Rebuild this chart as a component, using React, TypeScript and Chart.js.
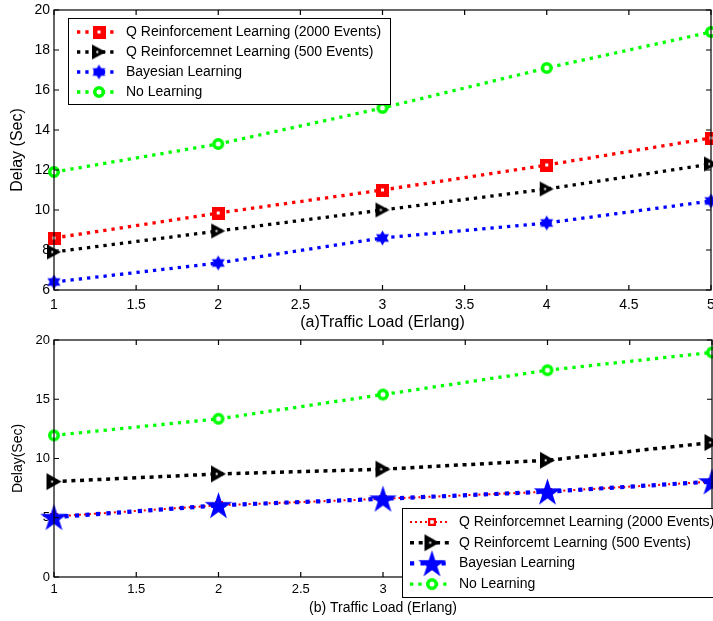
import React, { useEffect, useRef } from "react";
import { Chart, registerables } from "chart.js";
Chart.register(...registerables);

Chart.defaults.font.family = "'Liberation Sans', Arial, Helvetica, sans-serif";
Chart.defaults.color = "#000";

// ---------- data ----------
const loads = [1, 2, 3, 4, 5];

// (a) panel
const qrl2000A = [8.6, 9.85, 11.0, 12.25, 13.6];
const qrl500A = [7.9, 8.95, 10.0, 11.05, 12.3];
const bayesA = [6.4, 7.35, 8.6, 9.35, 10.45];
const noLearnA = [11.9, 13.3, 15.1, 17.1, 18.9];

// (b) panel
const qrl2000B = [5.1, 6.05, 6.6, 7.2, 8.05];
const qrl500B = [8.05, 8.7, 9.1, 9.85, 11.35];
const bayesB = [5.05, 6.05, 6.6, 7.2, 8.05];
const noLearnB = [11.95, 13.35, 15.4, 17.45, 18.95];

const labelsA = [
  "Q Reinforcement Learning (2000 Events)",
  "Q Reinforcemnet Learning (500 Events)",
  "Bayesian Learning",
  "No Learning",
];
const labelsB = [
  "Q Reinforcemnet Learning (2000 Events)",
  "Q Reinforcemt Learning (500 Events)",
  "Bayesian Learning",
  "No Learning",
];

const xRange = [1, 5];
const xStep = 0.5;
const yRangeA = [6, 20];
const yStepA = 2;
const yRangeB = [0, 20];
const yStepB = 5;

const xTitleA = "(a)Traffic Load (Erlang)";
const xTitleB = "(b) Traffic Load (Erlang)";
const yTitleA = "Delay (Sec)";
const yTitleB = "Delay(Sec)";

// ---------- markers ----------
function mk(w: number, h: number, draw: (ctx: CanvasRenderingContext2D) => void) {
  const c = document.createElement("canvas");
  c.width = w;
  c.height = h;
  const ctx = c.getContext("2d")!;
  draw(ctx);
  return c;
}
function squareMarker(outer: number, inner: number, color: string) {
  return mk(outer, outer, (ctx) => {
    ctx.fillStyle = color;
    ctx.fillRect(0, 0, outer, outer);
    ctx.fillStyle = "#fff";
    const o = (outer - inner) / 2;
    ctx.fillRect(o, o, inner, inner);
  });
}
function triangleMarker(w: number, h: number, color: string) {
  return mk(w + 2, h + 2, (ctx) => {
    ctx.fillStyle = color;
    ctx.beginPath();
    ctx.moveTo(1, 1);
    ctx.lineTo(1, h + 1);
    ctx.lineTo(w + 1, (h + 2) / 2);
    ctx.closePath();
    ctx.fill();
    ctx.fillStyle = "#fff";
    ctx.fillRect(w * 0.38, (h + 2) / 2 - 1, 2, 2);
  });
}
function hexagramMarker(R: number, color: string) {
  const s = Math.ceil(R * 2 + 2);
  return mk(s, s, (ctx) => {
    const c = s / 2;
    ctx.fillStyle = color;
    [-90, 90].forEach((a0) => {
      ctx.beginPath();
      for (let k = 0; k < 3; k++) {
        const a = ((a0 + k * 120) * Math.PI) / 180;
        const px = c + R * Math.cos(a);
        const py = c + R * Math.sin(a);
        if (k === 0) ctx.moveTo(px, py);
        else ctx.lineTo(px, py);
      }
      ctx.closePath();
      ctx.fill();
    });
  });
}
function pentagramMarker(R: number, color: string) {
  const s = Math.ceil(R * 2 + 2);
  return mk(s, s, (ctx) => {
    const cx = s / 2;
    const cy = s / 2 + R * 0.09;
    const r = R * 0.382;
    ctx.fillStyle = color;
    ctx.beginPath();
    for (let k = 0; k < 10; k++) {
      const a = ((-90 + k * 36) * Math.PI) / 180;
      const rr = k % 2 === 0 ? R : r;
      const px = cx + rr * Math.cos(a);
      const py = cy + rr * Math.sin(a);
      if (k === 0) ctx.moveTo(px, py);
      else ctx.lineTo(px, py);
    }
    ctx.closePath();
    ctx.fill();
  });
}
function circleMarker(outer: number, lw: number, color: string) {
  const s = Math.ceil(outer + 2);
  return mk(s, s, (ctx) => {
    const c = s / 2;
    ctx.fillStyle = "#fff";
    ctx.beginPath();
    ctx.arc(c, c, (outer - lw) / 2, 0, Math.PI * 2);
    ctx.fill();
    ctx.strokeStyle = color;
    ctx.lineWidth = lw;
    ctx.stroke();
  });
}

// ---------- plugins ----------
const framePlugin = {
  id: "frame",
  afterDatasetsDraw(chart: any) {
    const { ctx, chartArea: a, scales } = chart;
    ctx.save();
    ctx.strokeStyle = "#000";
    ctx.lineWidth = 1.2;
    ctx.strokeRect(a.left, a.top, a.right - a.left, a.bottom - a.top);
    const tl = 5;
    ctx.beginPath();
    scales.x.ticks.forEach((t: any) => {
      const px = scales.x.getPixelForValue(t.value);
      ctx.moveTo(px, a.bottom);
      ctx.lineTo(px, a.bottom - tl);
      ctx.moveTo(px, a.top);
      ctx.lineTo(px, a.top + tl);
    });
    scales.y.ticks.forEach((t: any) => {
      const py = scales.y.getPixelForValue(t.value);
      ctx.moveTo(a.left, py);
      ctx.lineTo(a.left + tl, py);
      ctx.moveTo(a.right, py);
      ctx.lineTo(a.right - tl, py);
    });
    ctx.stroke();
    ctx.restore();
  },
};

const legendPlugin = {
  id: "boxLegend",
  afterDatasetsDraw(chart: any, _args: any, opts: any) {
    const { ctx } = chart;
    const { box, rowY, rowStep, lineX0, lineX1, markerX, textX, fontSize } = opts;
    ctx.save();
    ctx.fillStyle = "#fff";
    ctx.fillRect(box.x, box.y, box.w, box.h);
    ctx.strokeStyle = "#000";
    ctx.lineWidth = 1;
    ctx.strokeRect(box.x + 0.5, box.y + 0.5, box.w, box.h);
    chart.data.datasets.forEach((ds: any, i: number) => {
      const y = rowY + i * rowStep;
      ctx.save();
      ctx.strokeStyle = ds.borderColor;
      ctx.lineWidth = ds.borderWidth;
      ctx.setLineDash(ds.borderDash || []);
      ctx.beginPath();
      ctx.moveTo(lineX0, y);
      ctx.lineTo(lineX1, y);
      ctx.stroke();
      ctx.restore();
      const img = ds.pointStyle as HTMLCanvasElement;
      ctx.drawImage(img, markerX - img.width / 2, y - img.height / 2);
      ctx.fillStyle = "#000";
      ctx.font = `${fontSize}px 'Liberation Sans', Arial, Helvetica, sans-serif`;
      ctx.textBaseline = "middle";
      ctx.textAlign = "left";
      ctx.fillText(ds.label, textX, y);
    });
    ctx.restore();
  },
};

function ds(label: string, ys: number[], color: string, width: number, dash: number[], marker: HTMLCanvasElement, order: number) {
  return {
    label,
    data: loads.map((x, i) => ({ x, y: ys[i] })),
    borderColor: color,
    backgroundColor: color,
    borderWidth: width,
    borderDash: dash,
    pointStyle: marker,
    pointRadius: 6,
    pointHoverRadius: 6,
    clip: false,
    order,
    tension: 0,
  };
}

const fmt = (v: any) => String(Number(v));

function makeScales(opts: {
  yMin: number; yMax: number; yStep: number; xTitle: string; yTitle: string;
  tickSize: number; titleSize: number; xHeight: number; xTickPad: number; xTitlePad: number; yTitlePad: number;
}) {
  return {
    x: {
      type: "linear",
      min: xRange[0],
      max: xRange[1],
      ticks: { stepSize: xStep, font: { size: opts.tickSize }, color: "#000", padding: opts.xTickPad, maxRotation: 0, autoSkip: false, callback: fmt },
      grid: { display: false, drawTicks: false },
      border: { display: false },
      title: { display: true, text: opts.xTitle, font: { size: opts.titleSize }, color: "#000", padding: { top: 0, bottom: opts.xTitlePad } },
      afterFit: (s: any) => {
        s.height = opts.xHeight;
        s.paddingLeft = 0;
        s.paddingRight = 0;
      },
    },
    y: {
      type: "linear",
      z: 1,
      min: opts.yMin,
      max: opts.yMax,
      ticks: { stepSize: opts.yStep, font: { size: opts.tickSize }, color: "#000", padding: 4, callback: fmt },
      grid: { display: false, drawTicks: false },
      border: { display: false },
      title: { display: true, text: opts.yTitle, font: { size: opts.titleSize }, color: "#000", padding: { top: opts.yTitlePad, bottom: 0 } },
      afterFit: (s: any) => {
        s.width = 54;
        s.paddingTop = 0;
        s.paddingBottom = 0;
      },
    },
  };
}

export default function App() {
  const topRef = useRef<HTMLCanvasElement>(null);
  const botRef = useRef<HTMLCanvasElement>(null);

  useEffect(() => {
    // Panel (a)
    const mA = [
      squareMarker(13, 3, "#ff0000"),
      triangleMarker(14, 15, "#000000"),
      hexagramMarker(7.5, "#0000ff"),
      circleMarker(12, 3.5, "#00ff00"),
    ];
    const chartA = new Chart(topRef.current!, {
      type: "line",
      data: {
        datasets: [
          ds(labelsA[0], qrl2000A, "#ff0000", 3.3, [3.3, 5], mA[0], 3),
          ds(labelsA[1], qrl500A, "#000000", 3.3, [3.3, 5], mA[1], 2),
          ds(labelsA[2], bayesA, "#0000ff", 3.3, [3.3, 5], mA[2], 1),
          ds(labelsA[3], noLearnA, "#00ff00", 3.3, [3.3, 5], mA[3], 0),
        ] as any,
      },
      options: {
        responsive: false,
        animation: false,
        events: [],
        layout: { autoPadding: false, padding: { top: 10, right: 2, left: 0, bottom: 0 } },
        plugins: {
          legend: { display: false },
          tooltip: { enabled: false },
          boxLegend: {
            box: { x: 68, y: 18, w: 322, h: 86 },
            rowY: 32,
            rowStep: 20,
            lineX0: 77,
            lineX1: 117,
            markerX: 99,
            textX: 126,
            fontSize: 14,
          },
        } as any,
        scales: makeScales({
          yMin: yRangeA[0], yMax: yRangeA[1], yStep: yStepA, xTitle: xTitleA, yTitle: yTitleA,
          tickSize: 14, titleSize: 16, xHeight: 42, xTickPad: 7, xTitlePad: 0, yTitlePad: 8,
        }) as any,
      },
      plugins: [framePlugin, legendPlugin],
    });

    // Panel (b)
    const mB = [
      squareMarker(8, 3.5, "#ff0000"),
      triangleMarker(15, 17, "#000000"),
      pentagramMarker(14.5, "#0000ff"),
      circleMarker(12, 3.5, "#00ff00"),
    ];
    const chartB = new Chart(botRef.current!, {
      type: "line",
      data: {
        datasets: [
          ds(labelsB[0], qrl2000B, "#ff0000", 2, [2, 3], mB[0], 3),
          ds(labelsB[1], qrl500B, "#000000", 3.5, [4, 4.7], mB[1], 2),
          ds(labelsB[2], bayesB, "#0000ff", 4.2, [4.2, 6.3], mB[2], 1),
          ds(labelsB[3], noLearnB, "#00ff00", 3.3, [3.3, 5], mB[3], 0),
        ] as any,
      },
      options: {
        responsive: false,
        animation: false,
        events: [],
        layout: { autoPadding: false, padding: { top: 8, right: 1, left: 0, bottom: 0 } },
        plugins: {
          legend: { display: false },
          tooltip: { enabled: false },
          boxLegend: {
            box: { x: 402, y: 176, w: 330, h: 89 },
            rowY: 190,
            rowStep: 20.7,
            lineX0: 410,
            lineX1: 450,
            markerX: 432,
            textX: 459,
            fontSize: 14,
          },
        } as any,
        scales: makeScales({
          yMin: yRangeB[0], yMax: yRangeB[1], yStep: yStepB, xTitle: xTitleB, yTitle: yTitleB,
          tickSize: 13, titleSize: 14, xHeight: 44, xTickPad: 5, xTitlePad: 4, yTitlePad: 9.6,
        }) as any,
      },
      plugins: [framePlugin, legendPlugin],
    });

    return () => {
      chartA.destroy();
      chartB.destroy();
    };
  }, []);

  return (
    <div style={{ position: "fixed", left: 0, top: 0, width: 713, height: 621, background: "#fff", overflow: "hidden" }}>
      <canvas ref={topRef} width={713} height={332} style={{ position: "absolute", left: 0, top: 0 }} />
      <canvas ref={botRef} width={713} height={289} style={{ position: "absolute", left: 0, top: 332 }} />
    </div>
  );
}
